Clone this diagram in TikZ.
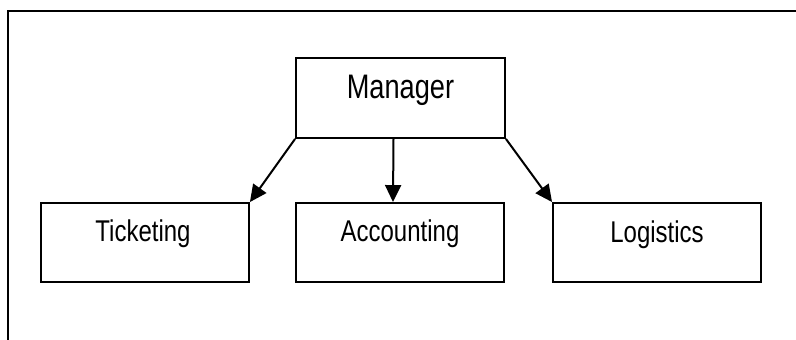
\documentclass[tikz,border=0pt]{standalone}
\usepackage{fontspec}
\setmainfont{Liberation Sans}
\newfontfamily\boxfont[FakeStretch=0.8]{Liberation Sans}
\usetikzlibrary{arrows.meta,calc}
\tikzset{
  box/.style={draw, line width=1.9pt, minimum width=208pt, minimum height=79pt, inner sep=0pt},
  lbl/.style={anchor=base, inner sep=0pt, font=\boxfont\fontsize{30}{32}\selectfont},
  mlbl/.style={anchor=base, inner sep=0pt, font=\boxfont\fontsize{34}{36}\selectfont},
  conn/.style={line width=2pt, -{Triangle[length=17pt,width=16pt]}},
  frame/.style={line width=2.4pt}
}
\begin{document}
\begin{tikzpicture}[x=1pt,y=-1pt]
\useasboundingbox (0,0) rectangle (796,340);
\coordinate (ftr) at (800,11);
\coordinate (fc) at (8,11);
\coordinate (fbl) at (8,344);
\draw[frame] (ftr) -- (fc) -- (fbl);
\node[box, minimum width=209pt, minimum height=80pt] (mgr) at (400.5,98) {};
\node[box] (tick) at (145,242.5) {};
\node[box] (acc) at (400,242.5) {};
\node[box] (log) at (657,242.5) {};
\node[mlbl] (mgrt) at ([yshift=-41pt]mgr.north) {Manager};
\node[lbl] (tickt) at ([yshift=-39pt,xshift=-2pt]tick.north) {Ticketing};
\node[lbl] (acct) at ([yshift=-39pt]acc.north) {Accounting};
\node[lbl] (logt) at ([yshift=-40pt]log.north) {Logistics};
\draw[conn] (mgr.south west) -- (tick.north east);
\draw[conn] ([xshift=-7pt]mgr.south) -- ([xshift=-7pt]acc.north);
\draw[conn] (mgr.south east) -- (log.north west);
\end{tikzpicture}
\end{document}
